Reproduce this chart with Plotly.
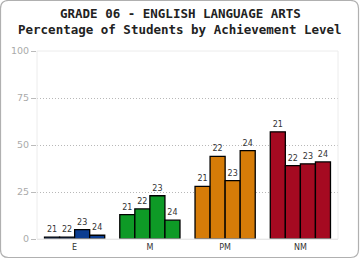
import plotly.graph_objects as go

categories = ["E", "M", "PM", "NM"]
years = ["21", "22", "23", "24"]
values = {
    "21": [1, 13, 28, 57],
    "22": [1, 16, 44, 39],
    "23": [5, 23, 31, 40],
    "24": [2, 10, 47, 41],
}
cat_colors = ["#0b3d91", "#0e9a26", "#d67c08", "#a50a21"]
y_ticks = [0, 25, 50, 75, 100]
title_lines = ["GRADE 06 - ENGLISH LANGUAGE ARTS", "Percentage of Students by Achievement Level"]

W, H = 360, 260
L, R, T, B = 37, 22, 51, 21
pw, ph = W - L - R, H - T - B

def px(x):
    return (x - L) / pw

def py(y):
    return (H - B - y) / ph

fig = go.Figure()
for yr in years:
    fig.add_trace(go.Bar(
        x=categories, y=values[yr], name=yr,
        text=[yr] * len(categories), textposition="outside",
        textfont=dict(family="DejaVu Sans", size=8, color="#333333"),
        marker=dict(color=cat_colors, line=dict(color="#000000", width=1.3)),
        cliponaxis=False, showlegend=False,
    ))

# rounded frame
x0, x1, y0, y1, r = 0.5, 358.5, 0.5, 257.5, 8
path = (f"M {px(x0 + r)} {py(y0)} L {px(x1 - r)} {py(y0)} "
        f"Q {px(x1)} {py(y0)} {px(x1)} {py(y0 + r)} L {px(x1)} {py(y1 - r)} "
        f"Q {px(x1)} {py(y1)} {px(x1 - r)} {py(y1)} L {px(x0 + r)} {py(y1)} "
        f"Q {px(x0)} {py(y1)} {px(x0)} {py(y1 - r)} L {px(x0)} {py(y0 + r)} "
        f"Q {px(x0)} {py(y0)} {px(x0 + r)} {py(y0)} Z")

annotations = []
for i, line in enumerate(title_lines):
    annotations.append(dict(
        text=f"<b>{line}</b>", xref="paper", yref="paper",
        x=px(180), y=py(14 + 15 * i), xanchor="center", yanchor="middle",
        showarrow=False,
        font=dict(family="DejaVu Sans Mono", size=12.5, color="#222222"),
    ))

fig.update_layout(
    width=W, height=H,
    margin=dict(l=L, r=R, t=T, b=B),
    paper_bgcolor="white", plot_bgcolor="white",
    barmode="group", bargap=0.2, bargroupgap=0,
    annotations=annotations,
    xaxis=dict(
        automargin=False,
        showgrid=False, showline=True, linecolor="#e4e4e4", linewidth=1,
        ticks="", tickfont=dict(family="DejaVu Sans", size=8, color="#333333"),
        fixedrange=True,
    ),
    yaxis=dict(
        automargin=False,
        range=[0, 100], tickvals=y_ticks,
        showgrid=True, gridcolor="#b8b8b8", griddash="1px,2px", gridwidth=1,
        zeroline=False, showline=False,
        ticks="outside", ticklen=5, tickcolor="#bbbbbb",
        tickfont=dict(family="DejaVu Sans", size=9.5, color="#aaaaaa"),
        fixedrange=True,
    ),
    shapes=[
        dict(type="rect", xref="paper", yref="paper", x0=0, x1=1, y0=0, y1=1,
             line=dict(color="#ececec", width=1), layer="above"),
        dict(type="path", xref="paper", yref="paper", path=path,
             line=dict(color="#b0b0b0", width=1.2), layer="above"),
    ],
)

fig.write_html("out.html")
